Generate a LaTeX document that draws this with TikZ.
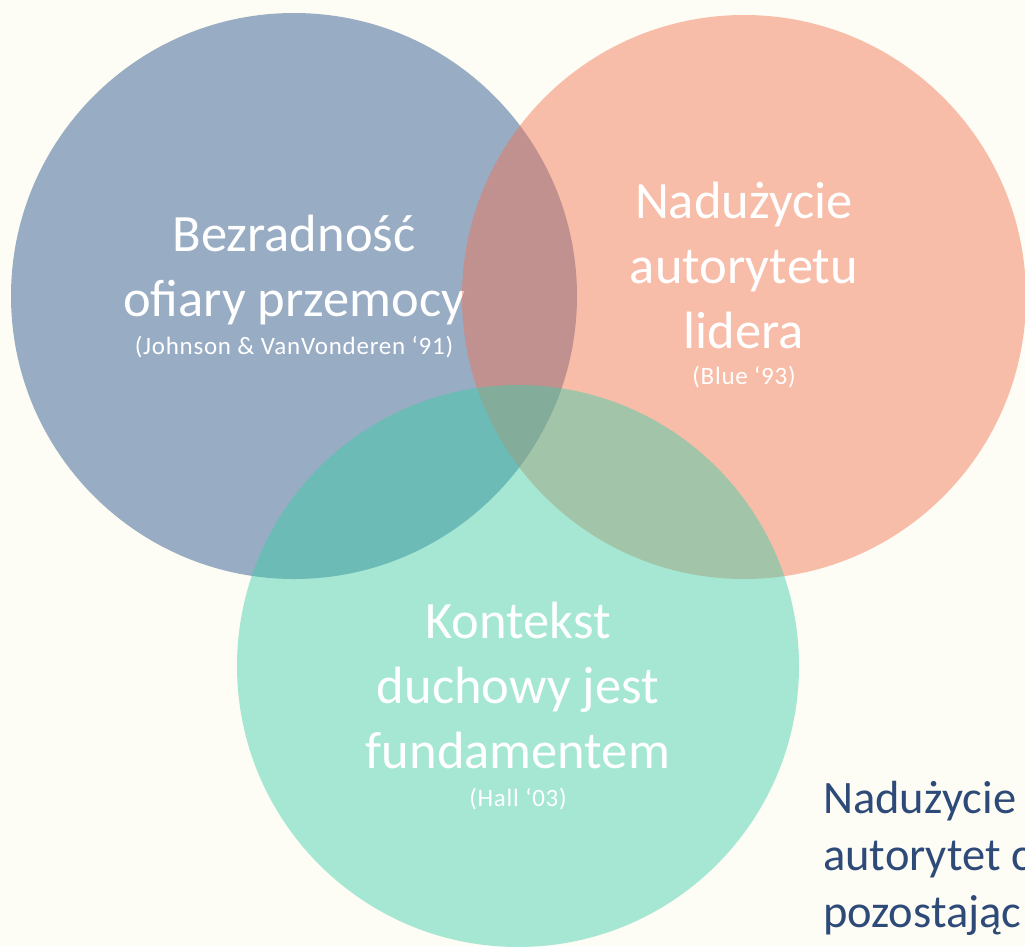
\documentclass[tikz,border=0pt]{standalone}
\usepackage{fontspec}
\setmainfont{Carlito}
\definecolor{bgc}{HTML}{FEFDF5}
\definecolor{bluec}{HTML}{98ACC4}
\definecolor{salmonc}{RGB}{241,114,80}
\definecolor{tealc}{RGB}{58,206,169}
\definecolor{darkc}{HTML}{2E4A78}
\tikzset{
  big/.style={text=white, anchor=base, inner sep=0pt, font=\fontsize{52.5}{62}\selectfont},
  small/.style={text=white, anchor=base, inner sep=0pt, font=\fontsize{25}{30}\selectfont\addfontfeature{LetterSpace=3}},
  side/.style={text=darkc, anchor=base west, inner sep=0pt, font=\fontsize{46.5}{57}\selectfont},
}
\begin{document}
\begin{tikzpicture}[x=1pt,y=-1pt]
\useasboundingbox (0,0) rectangle (1025,946);
\clip (0,0) rectangle (1025,946);
\fill[bgc] (0,0) rectangle (1025,946);
% blue circle
\fill[bluec] (294,296) circle[radius=283];
\node[big] (b1) at (294,251) {Bezradność};
\node[big] (b2) at (294,316) {ofiary przemocy};
\node[small] (b3) at (294,354) {(Johnson \& VanVonderen ‘91)};
% salmon circle
\fill[salmonc, fill opacity=0.46] (744,297) circle[radius=282];
\node[big] (s1) at (744,218) {Nadużycie};
\node[big] (s2) at (744,283) {autorytetu};
\node[big] (s3) at (744,348) {lidera};
\node[small] (s4) at (744,384) {(Blue ‘93)};
% teal circle
\fill[tealc, fill opacity=0.45] (518,666) circle[radius=281];
\node[big] (t1) at (518,638) {Kontekst};
\node[big] (t2) at (518,703) {duchowy jest};
\node[big] (t3) at (518,768) {fundamentem};
\node[small] (t4) at (518,806) {(Hall ‘03)};
% side text
\node[side] (r1) at (823,813) {Nadużycie};
\node[side] (r2) at (823,870) {autorytet c};
\node[side] (r3) at (823,927) {pozostając};
\end{tikzpicture}
\end{document}
